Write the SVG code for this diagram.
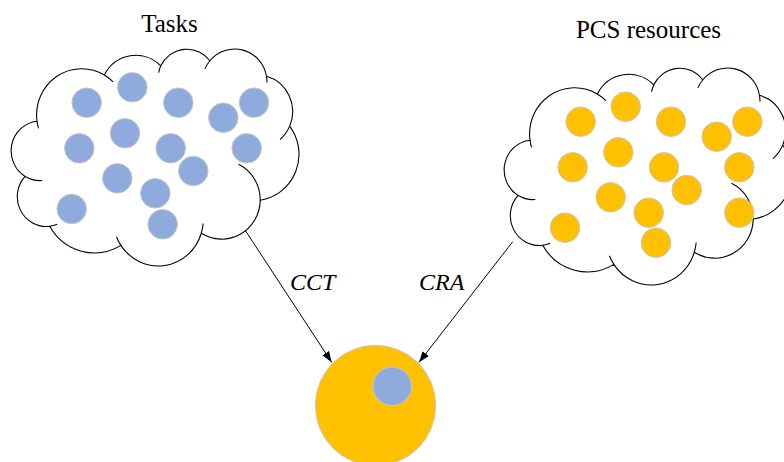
<svg xmlns="http://www.w3.org/2000/svg" xmlns:xlink="http://www.w3.org/1999/xlink" width="784" height="462" viewBox="0 0 784 462">
  <style>
    .cloud { fill: #FFFFFF; stroke: #000000; stroke-width: 1.1; }
    .fold { fill: none; stroke: #000000; stroke-width: 1.1; }
    .task { fill: #8FAADC; stroke: #C8C8C8; stroke-width: 1; }
    .res { fill: #FFC000; stroke: #C8C8C8; stroke-width: 1; }
    .title { font-family: "Liberation Serif", "Times New Roman", serif; font-size: 25px; fill: #000000; text-anchor: middle; }
    .lbl { font-family: "Liberation Serif", "Times New Roman", serif; font-size: 24px; font-style: italic; fill: #000000; }
    .conn { stroke: #000000; stroke-width: 1; fill: none; }
  </style>
  <defs>
    <!-- cloud outline, 288 x 217 box, lobes as elliptical arcs -->
    <path id="cloudOutline" d="M26,72.18 A45.02,46.16 0 0 1 93.33,26.08 A35.55,36.5 0 0 1 149.8,16.83 A29.1,29.86 0 0 1 198.87,11.73 A32.38,33.13 0 0 1 255.49,27.26 A35.55,36.53 0 0 1 278.65,77.13 A45.17,46.31 0 0 1 249.21,151.17 A38.57,39.52 0 0 1 190.31,184.25 A45.01,46.29 0 0 1 109.85,196.35 A51.47,52.96 0 0 1 38.73,177.26 A29.07,29.73 0 0 1 14.13,127.42 A28.97,29.86 0 0 1 26,72.18 Z"/>
    <!-- inner fold marks of the cloud -->
    <path id="cloudFolds" d="M31.29,131.49 A28.97,29.86 0 0 1 14.26,127.45 M46.19,175.3 A29.07,29.73 0 0 1 38.73,177.26 M109.85,196.35 A45.01,46.29 0 0 1 105.45,187.72 M192.18,174.56 A45.01,46.29 0 0 1 190.31,184.25 M227.53,115.3 A38.57,39.52 0 0 1 249.21,151.17 M278.65,77.13 A35.55,36.53 0 0 1 269,90.57 M255.49,27.26 A32.38,33.13 0 0 1 255.95,33.63 M193.85,19.85 A32.38,33.13 0 0 1 198.87,11.73 M147.61,23.71 A29.1,29.86 0 0 1 149.8,16.83 M93.33,26.08 A45.02,46.16 0 0 1 102.01,32.87 M27.51,79.31 A45.02,46.16 0 0 1 26,72.18"/>
    <marker id="arrowHead" markerUnits="userSpaceOnUse" markerWidth="12" markerHeight="9" refX="11" refY="4" orient="auto">
      <path d="M0,0 L11,4 L0,8 Z" fill="#000000"/>
    </marker>
  </defs>

  <!-- Tasks pool -->
  <g id="tasks">
    <text class="title" x="169.5" y="32">Tasks</text>
    <g transform="translate(11,49)">
      <use xlink:href="#cloudOutline" class="cloud"/>
      <use xlink:href="#cloudFolds" class="fold"/>
    </g>
    <circle class="task" cx="86.7" cy="102.7" r="14.8"/>
    <circle class="task" cx="132.3" cy="87.3" r="14.8"/>
    <circle class="task" cx="178.3" cy="102.7" r="14.8"/>
    <circle class="task" cx="223.3" cy="117.7" r="14.8"/>
    <circle class="task" cx="254" cy="102.7" r="14.8"/>
    <circle class="task" cx="125" cy="133.3" r="14.8"/>
    <circle class="task" cx="79.3" cy="148.3" r="14.8"/>
    <circle class="task" cx="170.7" cy="148.3" r="14.8"/>
    <circle class="task" cx="246.7" cy="148.3" r="14.8"/>
    <circle class="task" cx="193.3" cy="171" r="14.8"/>
    <circle class="task" cx="117.3" cy="178.3" r="14.8"/>
    <circle class="task" cx="155.3" cy="193.3" r="14.8"/>
    <circle class="task" cx="71.7" cy="209" r="14.8"/>
    <circle class="task" cx="162.7" cy="224.3" r="14.8"/>
  </g>

  <!-- PCS resources pool -->
  <g id="resources">
    <text class="title" x="648.5" y="38">PCS resources</text>
    <g transform="translate(504,68)">
      <use xlink:href="#cloudOutline" class="cloud"/>
      <use xlink:href="#cloudFolds" class="fold"/>
    </g>
    <circle class="res" cx="580.7" cy="121.7" r="14.8"/>
    <circle class="res" cx="625.7" cy="106.7" r="14.8"/>
    <circle class="res" cx="671" cy="121.7" r="14.8"/>
    <circle class="res" cx="716.7" cy="136.7" r="14.8"/>
    <circle class="res" cx="747.3" cy="121.7" r="14.8"/>
    <circle class="res" cx="618.3" cy="152.3" r="14.8"/>
    <circle class="res" cx="572.7" cy="167.3" r="14.8"/>
    <circle class="res" cx="664" cy="167.3" r="14.8"/>
    <circle class="res" cx="739.3" cy="167.3" r="14.8"/>
    <circle class="res" cx="686.7" cy="190" r="14.8"/>
    <circle class="res" cx="610.7" cy="197.3" r="14.8"/>
    <circle class="res" cx="648.7" cy="212.7" r="14.8"/>
    <circle class="res" cx="565" cy="227.7" r="14.8"/>
    <circle class="res" cx="739.3" cy="212.7" r="14.8"/>
    <circle class="res" cx="656" cy="242.7" r="14.8"/>
  </g>

  <!-- resource with an assigned task -->
  <g id="assignment">
    <circle class="res" cx="375.5" cy="405.5" r="60.2"/>
    <circle class="task" cx="392.2" cy="386.3" r="19.3" stroke="#D6D6D6"/>
  </g>

  <!-- connectors -->
  <g id="connectors">
    <line class="conn" x1="245" y1="230" x2="331.7" y2="362.3" marker-end="url(#arrowHead)"/>
    <line class="conn" x1="512.7" y1="241.7" x2="419" y2="362.3" marker-end="url(#arrowHead)"/>
    <text class="lbl" x="290" y="289.5">CCT</text>
    <text class="lbl" x="419" y="289.5">CRA</text>
  </g>
</svg>
